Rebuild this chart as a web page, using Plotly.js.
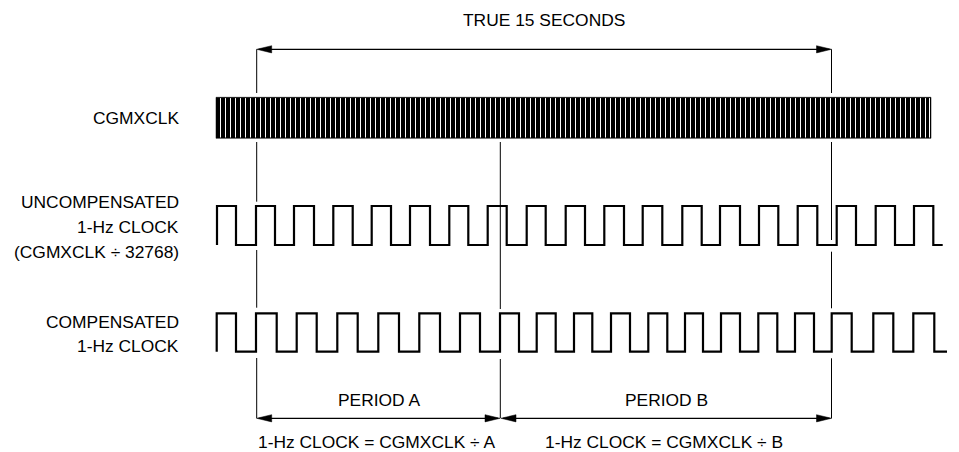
<!DOCTYPE html>
<html><head><meta charset="utf-8">
<script src="https://cdn.plot.ly/plotly-3.0.1.min.js"></script>
<style>html,body{margin:0;padding:0;background:#fff}</style>
</head><body><div id="chart" style="width:959px;height:452px"></div>
<script>
// ---- data (horizontal = time position in diagram units) ----
const cgmxStart = 216;
const cgmxEnd = 931;
const cgmxGaps = [220,225,230,235,240,245,250,255,260,265,270,275,280,285,290,295,300,305,310,315,320,325,330,335,340,345,350,355,360,365,370,375,380,385,390,395,400,405,410,415,420,425,430,435,440,445,450,455,460,465,470,475,480,485,490,495,500,505,510,515,520,525,530,535,540,545,550,555,560,565,570,575,580,585,590,595,600,605,610,615,620,625,630,635,640,645,650,655,660,665,670,675,680,685,690,695,700,705,710,715,720,725,730,735,740,745,750,755,760,765,770,775,780,785,790,795,800,805,810,815,820,825,830,835,840,845,850,855,860,865,870,875,880,885,890,895,900,905,910,915,920,925,929];
const uncEdges = [217,236,256,275,294,314,333.3,352.7,371.7,391,410,430,449.3,468.3,487.7,506.7,526.7,545.7,565.7,585,604.3,624,642.7,662.3,682.3,701.7,720,740,759,778.3,797.7,817.3,836.7,856,875.7,895,914,933.3];
const uncEnd = 942.7;
const compEdges = [216.7,236,256,276.7,296.7,316.7,337.3,357.7,378.3,399,419.3,440,460,480,500,519,536.7,555.7,574,592.3,611,630,648.3,667.3,685,703,721,740,758.3,777.3,795,814,831.7,851.7,873.3,893.3,913.3,934.3];
const compEnd = 947;
const markerTimes = [256.7, 500.3, 831.5];
const topLabel = "TRUE 15 SECONDS";
const cgmxLabel = ["CGMXCLK"];
const uncLabel = ["UNCOMPENSATED", "1-Hz CLOCK", "(CGMXCLK ÷ 32768)"];
const compLabel = ["COMPENSATED", "1-Hz CLOCK"];
const periodLabels = ["PERIOD A", "PERIOD B"];
const formulaLabels = ["1-Hz CLOCK = CGMXCLK ÷ A", "1-Hz CLOCK = CGMXCLK ÷ B"];

// ---- layout geometry (styles / positions) ----
const G = {
  cgmxTop: 97.3, cgmxBot: 138.3,
  uncHi: 206, uncLo: 245,
  compHi: 313.3, compLo: 351.7,
  topArrowY: 49.3, botArrowY: 418.3,
  headL: 15, headH: 3.6,
  labelRight: 181,
  gapOffset: 0.5,
  markerSegs: [
    [[49.3,93],[142,201.7],[250,307.7],[358,418.3]],
    [[142,309],[359,418.3]],
    [[49.3,93],[142,240],[251.7,308.3],[358.3,418.3]]
  ]
};
const FONT = "Liberation Sans, Arial, Helvetica, sans-serif";
const FSIZE = 17.4;

function wave(edges, end, hi, lo) {
  const xs = [], ys = [];
  let lvl = lo;
  for (const e of edges) {
    const nxt = (lvl === lo) ? hi : lo;
    xs.push(e, e); ys.push(lvl, nxt); lvl = nxt;
  }
  xs.push(end); ys.push(lvl);
  return {x: xs, y: ys};
}

const traces = [];
// CGMXCLK band
traces.push({type:'scatter', mode:'lines', x:[cgmxStart,cgmxEnd,cgmxEnd,cgmxStart,cgmxStart],
  y:[G.cgmxTop,G.cgmxTop,G.cgmxBot,G.cgmxBot,G.cgmxTop], fill:'toself', fillcolor:'#000',
  line:{color:'#000', width:0.5}, hoverinfo:'skip'});
{
  const xs=[], ys=[];
  for (const g of cgmxGaps) { xs.push(g+G.gapOffset,g+G.gapOffset,null); ys.push(G.cgmxTop+0.8,G.cgmxBot-0.8,null); }
  traces.push({type:'scatter', mode:'lines', x:xs, y:ys, line:{color:'#fff', width:1}, hoverinfo:'skip'});
}
// waves
const u = wave(uncEdges, uncEnd, G.uncHi, G.uncLo);
traces.push({type:'scatter', mode:'lines', x:u.x, y:u.y, line:{color:'#000', width:2.2}, hoverinfo:'skip'});
const c = wave(compEdges, compEnd, G.compHi, G.compLo);
traces.push({type:'scatter', mode:'lines', x:c.x, y:c.y, line:{color:'#000', width:2.2}, hoverinfo:'skip'});
// markers
{
  const xs=[], ys=[];
  markerTimes.forEach((m,i)=>{ for (const s of G.markerSegs[i]) { xs.push(m,m,null); ys.push(s[0],s[1],null); } });
  traces.push({type:'scatter', mode:'lines', x:xs, y:ys, line:{color:'#000', width:1}, hoverinfo:'skip'});
}
// arrows
function arrow(x0, x1, y) {
  traces.push({type:'scatter', mode:'lines', x:[x0+2,x1-2], y:[y,y], line:{color:'#000', width:1.2}, hoverinfo:'skip'});
  traces.push({type:'scatter', mode:'lines', x:[x0,x0+G.headL,x0+G.headL,x0], y:[y,y-G.headH,y+G.headH,y],
    fill:'toself', fillcolor:'#000', line:{color:'#000', width:0.5}, hoverinfo:'skip'});
  traces.push({type:'scatter', mode:'lines', x:[x1,x1-G.headL,x1-G.headL,x1], y:[y,y-G.headH,y+G.headH,y],
    fill:'toself', fillcolor:'#000', line:{color:'#000', width:0.5}, hoverinfo:'skip'});
}
arrow(markerTimes[0], markerTimes[2], G.topArrowY);
arrow(markerTimes[0], markerTimes[1]-0.3, G.botArrowY);
arrow(markerTimes[1]+0.7, markerTimes[2], G.botArrowY);

const ann = [];
function txt(t, x, y, xanchor) {
  ann.push({text:t, x:x, y:y, xref:'x', yref:'y', showarrow:false, xanchor:xanchor, yanchor:'middle',
    font:{family:FONT, size:FSIZE, color:'#000'}});
}
txt(topLabel, 544, 19.7, 'center');
txt(cgmxLabel[0], G.labelRight, 118, 'right');
uncLabel.forEach((t,i)=>txt(t, G.labelRight, 202+i*25.2, 'right'));
compLabel.forEach((t,i)=>txt(t, G.labelRight, 322+i*24, 'right'));
txt(periodLabels[0], 379, 400, 'center');
txt(periodLabels[1], 666, 400, 'center');
txt(formulaLabels[0], 377, 441.7, 'center');
txt(formulaLabels[1], 664, 441.7, 'center');

Plotly.newPlot('chart', traces, {
  width:959, height:452, margin:{l:0,r:0,t:0,b:0},
  paper_bgcolor:'#fff', plot_bgcolor:'#fff', showlegend:false,
  xaxis:{range:[0,959], visible:false, fixedrange:true},
  yaxis:{range:[452,0], visible:false, fixedrange:true},
  annotations: ann
}, {staticPlot:true, displayModeBar:false});
</script></body></html>
